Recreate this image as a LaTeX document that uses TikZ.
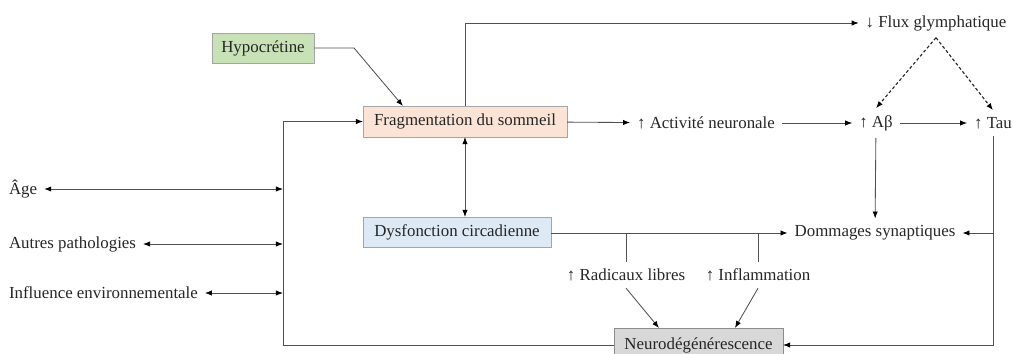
\documentclass[tikz,border=0pt]{standalone}
\usepackage{fontspec}
\setmainfont{Liberation Serif}
\usetikzlibrary{positioning,calc,arrows.meta}
\definecolor{hypofill}{RGB}{200,225,183}
\definecolor{fragfill}{RGB}{251,228,213}
\definecolor{dysfill}{RGB}{221,234,246}
\definecolor{neurofill}{RGB}{216,216,216}
\definecolor{boxline}{RGB}{165,165,165}
\definecolor{wire}{RGB}{80,80,80}

\begin{document}
\begin{tikzpicture}[x=0.025cm,y=-0.025cm,
every node/.style={font=\fontsize{12}{14}\selectfont,text=black!85,inner sep=2pt,outer sep=3pt},
box/.style={draw=boxline,line width=0.6pt,minimum height=0.75cm,outer sep=0pt},
link/.style={draw=wire,line width=0.6pt,-{Latex[length=5pt,width=3.8pt,color=black]}},
twoway/.style={link,{Latex[length=5pt,width=3.8pt,color=black]}-{Latex[length=5pt,width=3.8pt,color=black]}},
dots/.style={link,draw=black!85,line width=0.8pt,dash pattern=on 2.2pt off 1.6pt},
plain/.style={draw=wire,line width=0.6pt}]
\useasboundingbox (0,0) rectangle (1013,354);

\node[box,fill=hypofill,minimum width=2.55cm] (hypo) at (263,48) {Hypocrétine};
\node[box,fill=fragfill,minimum width=5.1cm,minimum height=0.775cm] (frag) at (465,121.5) {Fragmentation du sommeil};
\node[box,fill=dysfill,minimum width=4.7cm] (dys) at (457,232) {Dysfonction circadienne};
\node[box,fill=neurofill,draw=black!45,minimum width=4.225cm,minimum height=0.85cm] (neuro) at (698.5,345) {Neurodégénérescence};

\node (flux) at (936,23) {↓ Flux glymphatique};
\node (act) at (706,123) {↑ Activité neuronale};
\node (ab) at (876,123) {↑ Aβ};
\node (tau) at (993,123) {↑ Tau};
\node (dom) at (875,233) {Dommages synaptiques};
\node (rad) at (626,275) {↑ Radicaux libres};
\node (infl) at (758,275) {↑ Inflammation};

\node[anchor=west] (age) at (2,189) {Âge};
\node[anchor=west] (autres) at (2,244) {Autres pathologies};
\node[anchor=west] (env) at (2,293) {Influence environnementale};

\coordinate (hypo bend) at (354,48);
\coordinate (bus top) at (283,121.5);

\draw[link] (hypo.east) -- (hypo bend) -- ($(frag.north west)+(40,0)$);
\draw[link] (frag.north) |- (flux.west);
\draw[link] (frag) -- (act);
\draw[link] (act) -- (ab);
\draw[link] (ab) -- (tau);
\draw[dots] (flux.south) -- (ab.north);
\draw[dots] (flux.south) -- (tau.north);
\draw[link] (ab) -- (dom);
\draw[link] (tau.south) |- (dom.east);
\draw[link] (tau.south) |- (neuro.east);
\draw[twoway] (frag.south) -- (frag.south |- dys.north);
\draw[link] (dys.east |- dom.west) -- (dom.west);
\draw[plain] (rad.north |- dom.west) -- (rad.north);
\draw[plain] (infl.north |- dom.west) -- (infl.north);
\draw[link] (rad.south) -- ($(neuro.north west)+(45,0)$);
\draw[link] (infl.south) -- ($(neuro.north west)+(121,0)$);
\draw[link] (neuro.west) -| (bus top) -- (frag.west);
\draw[twoway] (age) -- (age -| bus top);
\draw[twoway] (autres) -- (autres -| bus top);
\draw[twoway] (env) -- (env -| bus top);
\end{tikzpicture}
\end{document}
